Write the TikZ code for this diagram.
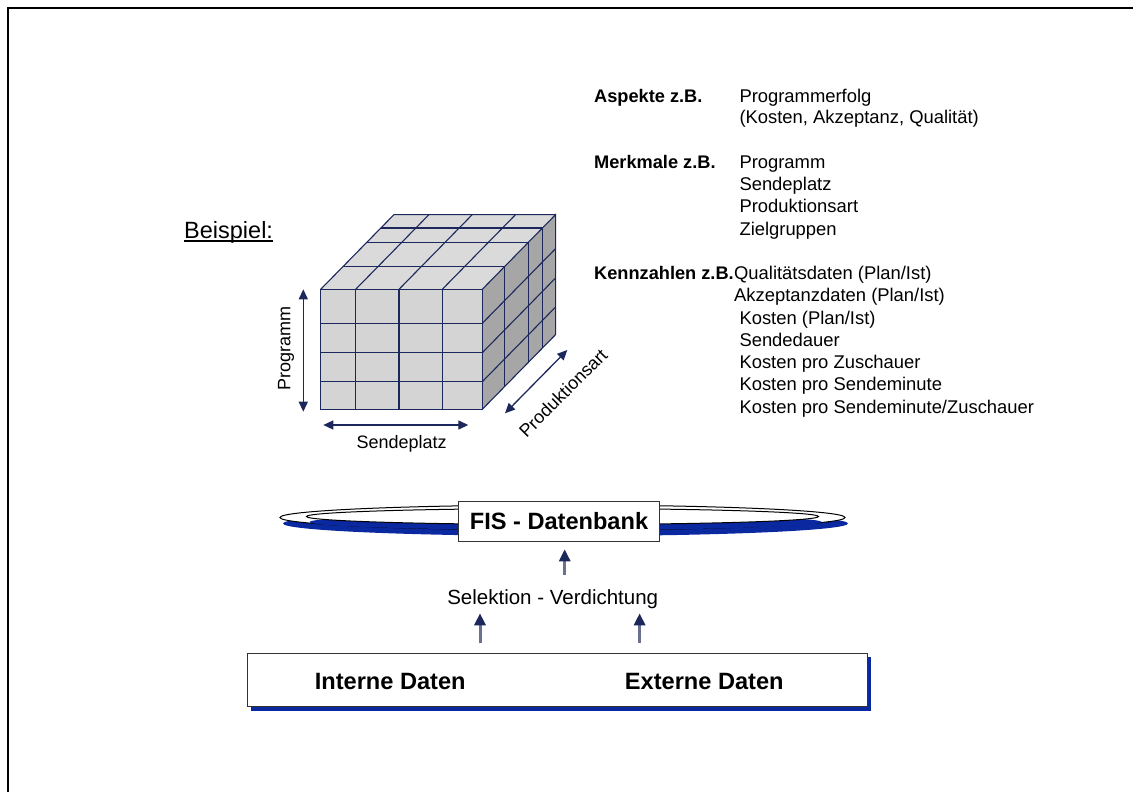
\documentclass[tikz,border=0pt]{standalone}
\usepackage{fontspec}
\setmainfont{Liberation Sans}
\usetikzlibrary{arrows.meta}
\definecolor{navy}{RGB}{28,40,92}
\definecolor{dbblue}{RGB}{10,40,160}
\definecolor{frontgray}{RGB}{212,212,212}
\definecolor{topgray}{RGB}{218,218,218}
\definecolor{sidegray}{RGB}{166,166,166}
\definecolor{shaftgray}{RGB}{105,112,145}
\begin{document}
\begin{tikzpicture}[x=1pt,y=-1pt,
  cubeline/.style={draw=navy, line width=1.1pt},
  dimarrow/.style={draw=navy, line width=1.3pt, {Triangle[length=10pt,width=9pt]}-{Triangle[length=10pt,width=9pt]}},
  blockarrow/.style={line width=3pt, draw=shaftgray, -{Triangle[length=12pt,width=11pt,fill=navy,color=navy]}},
  lbl/.style={font=\fontsize{18}{22}\selectfont, inner sep=0pt},
  rt/.style={font=\fontsize{18.4}{22}\selectfont, inner sep=0pt, anchor=base west},
  rtb/.style={font=\fontsize{18.2}{22}\selectfont\bfseries, inner sep=0pt, anchor=base west},
  bigb/.style={font=\fontsize{23.6}{28}\selectfont\bfseries, inner sep=0pt}
]
\useasboundingbox (0,0) rectangle (1133,792);
\draw[line width=1.6pt] (8,792) -- (8,8) -- (1133,8);

% ---- cube ----
\coordinate (A) at (320.7,289.3);
\coordinate (B) at (482.3,289.3);
\coordinate (C) at (482.3,409.3);
\coordinate (D) at (320.7,409.3);
\coordinate (A2) at (394,214.6);
\coordinate (B2) at (555.6,214.6);
\coordinate (C2) at (555.6,334.6);
\fill[topgray] (A) -- (B) -- (B2) -- (A2) -- cycle;
\fill[sidegray] (B) -- (C) -- (C2) -- (B2) -- cycle;
\fill[frontgray] (A) rectangle (C);
\foreach \x in {355.7,399,442.3} {
  \draw[cubeline] (\x,289.3) -- (\x,409.3);
  \draw[cubeline] (\x,289.3) -- ++(73.3,-74.7);
}
\foreach \y in {323.3,352.7,381.7} {
  \draw[cubeline] (320.7,\y) -- (482.3,\y);
  \draw[cubeline] (482.3,\y) -- ++(73.3,-74.7);
}
\foreach \f in {0.3,0.625,0.82} {
  \draw[cubeline] ({320.7+\f*73.3},{289.3-\f*74.7}) -- ++(161.6,0);
  \draw[cubeline] ({482.3+\f*73.3},{289.3-\f*74.7}) -- ++(0,120);
}
\draw[cubeline] (A) -- (B) -- (C) -- (D) -- cycle;
\draw[cubeline] (B) -- (B2) -- (C2) -- (C);
\draw[cubeline] (A) -- (A2) -- (B2);

% dimension arrows
\coordinate (progtop) at (303.3,289.3);
\coordinate (progbot) at (303.3,411.7);
\draw[dimarrow] (progtop) -- (progbot);
\coordinate (sendl) at (323.3,425);
\coordinate (sendr) at (468.3,425);
\draw[dimarrow] (sendl) -- (sendr);
\coordinate (proda) at (505,413.3);
\coordinate (prodb) at (567.3,350);
\draw[dimarrow] (proda) -- (prodb);
\node[lbl, rotate=90] (programm) at (286,348.5) {Programm};
\node[lbl] (sendeplatz) at (401.7,444) {Sendeplatz};
\node[lbl, rotate=45] (prodart) at (563,393) {Produktionsart};

% Beispiel
\node[font=\fontsize{23.5}{28}\selectfont, inner sep=0pt, anchor=base west] (beispiel) at (184,238.5) {Beispiel:};
\draw[line width=1.2pt] ([yshift=-2.5pt]beispiel.base west) -- ([yshift=-2.5pt]beispiel.base east);

% right text
\node[rtb] (asp) at (594,102.5) {Aspekte z.B.};
\node[rt] (asp1) at (739.3,102.5) {Programmerfolg};
\node[rt] (asp2) at (739.3,124) {(Kosten, Akzeptanz, Qualität)};
\node[rtb] (mer) at (594,168.2) {Merkmale z.B.};
\node[rt] (mer1) at (739.3,168.2) {Programm};
\node[rt] (mer2) at (739.3,190.6) {Sendeplatz};
\node[rt] (mer3) at (739.3,212.8) {Produktionsart};
\node[rt] (mer4) at (739.3,235) {Zielgruppen};
\node[rtb] (ken) at (594,279.8) {Kennzahlen z.B.};
\node[rt] (ken1) at (ken.base east) {Qualitätsdaten (Plan/Ist)};
\node[rt] (ken2) at (734,301.9) {Akzeptanzdaten (Plan/Ist)};
\node[rt] (ken3) at (739.3,324) {Kosten (Plan/Ist)};
\node[rt] (ken4) at (739.3,346) {Sendedauer};
\node[rt] (ken5) at (739.3,368.7) {Kosten pro Zuschauer};
\node[rt] (ken6) at (739.3,390.8) {Kosten pro Sendeminute};
\node[rt] (ken7) at (739.3,413.2) {Kosten pro Sendeminute/Zuschauer};

% database discs
\fill[dbblue] (565.5,523.5) ellipse [x radius=282.5pt, y radius=12.5pt];
\filldraw[fill=white, draw=black, line width=1pt] (562.5,517.5) ellipse [x radius=282.5pt, y radius=12.5pt];
\fill[dbblue] (565.5,522) ellipse [x radius=256pt, y radius=8pt];
\filldraw[fill=white, draw=black, line width=1pt] (562.5,516.5) ellipse [x radius=256pt, y radius=8pt];
\node[bigb, draw=black!80, line width=1pt, fill=white, minimum width=201pt, minimum height=39.3pt, inner sep=0pt] (fis) at (559,521.4) {FIS - Datenbank};

% arrows and selection
\coordinate (a0s) at (564.7,575);
\coordinate (a0e) at (564.7,549.3);
\draw[blockarrow] (a0s) -- (a0e);
\node[font=\fontsize{20.5}{24}\selectfont, inner sep=0pt, anchor=base] (sel) at (552.7,604.5) {Selektion - Verdichtung};
\coordinate (a1s) at (480,643.3);
\coordinate (a1e) at (480,613.3);
\coordinate (a2s) at (639.6,643.3);
\coordinate (a2e) at (639.6,613.3);
\draw[blockarrow] (a1s) -- (a1e);
\draw[blockarrow] (a2s) -- (a2e);

% data box
\fill[dbblue] (251.4,657.3) rectangle (871.2,710.7);
\node[draw=black!80, line width=1pt, fill=white, minimum width=619.8pt, minimum height=53.4pt, inner sep=0pt] (daten) at (557.3,680) {};
\node[bigb] (intern) at (390.2,681.7) {Interne Daten};
\node[bigb] (extern) at (704.3,681.7) {Externe Daten};
\end{tikzpicture}
\end{document}
